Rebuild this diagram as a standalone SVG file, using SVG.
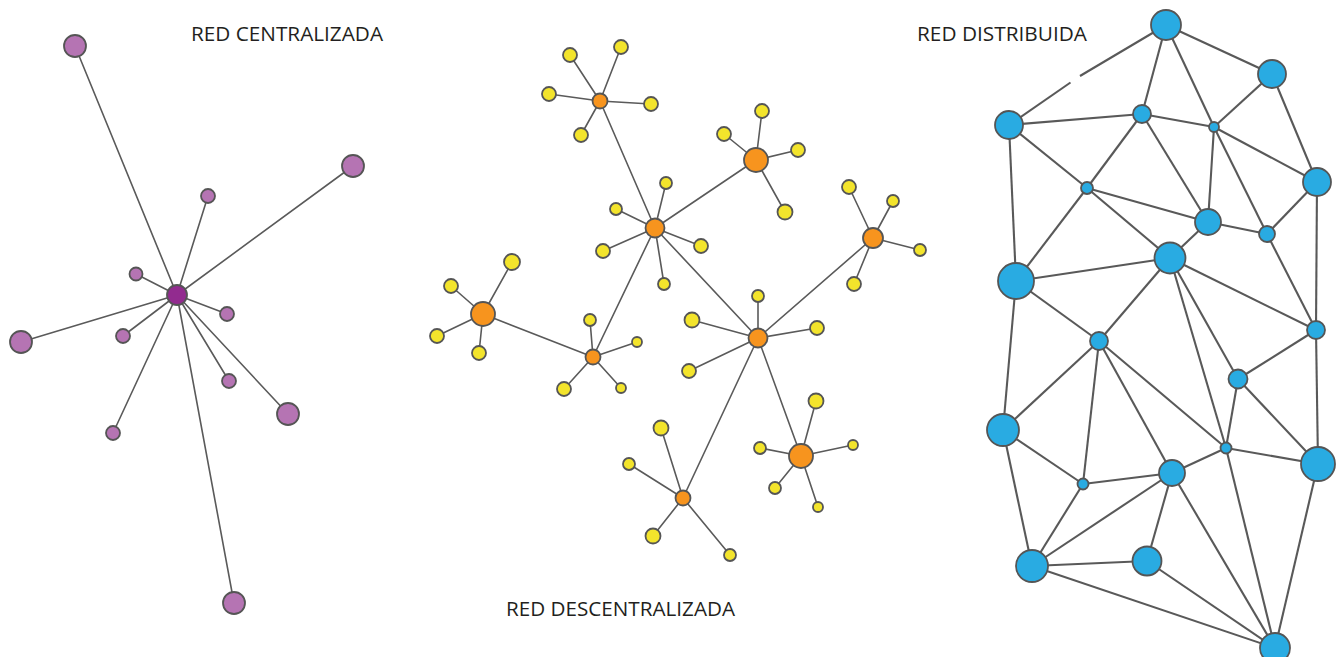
<svg xmlns="http://www.w3.org/2000/svg" width="1336" height="657" viewBox="0 0 1336 657">
  <style>
    .bg { fill: #ffffff; }
    .title { font-family: "Open Sans", "Liberation Sans", sans-serif; font-size: 19.5px; fill: #231f20; }
    .edge { stroke: #5a5a5a; stroke-width: 1.6; fill: none; stroke-linecap: round; }
    .edge-b { stroke: #595959; stroke-width: 2.1; fill: none; }
    .node { stroke: #555555; stroke-width: 1.8; }
    .hub-c { fill: #922b8f; }
    .leaf-c { fill: #b574b3; }
    .hub-d { fill: #f7941e; }
    .leaf-d { fill: #f3e42c; }
    .net-b { fill: #29abe2; }
  </style>
  <rect class="bg" x="0" y="0" width="1336" height="657"/>

  <!-- titles -->
  <text class="title" x="191" y="41" textLength="192" lengthAdjust="spacingAndGlyphs">RED CENTRALIZADA</text>
  <text class="title" x="506" y="616" textLength="229" lengthAdjust="spacingAndGlyphs">RED DESCENTRALIZADA</text>
  <text class="title" x="917" y="41" textLength="170" lengthAdjust="spacingAndGlyphs">RED DISTRIBUIDA</text>

  <!-- connectors -->
  <g id="connectors">
    <!-- star network -->
    <g id="edges-centralized" class="edge">
      <line x1="177" y1="295" x2="75" y2="46"/>
      <line x1="177" y1="295" x2="353" y2="166"/>
      <line x1="177" y1="295" x2="208" y2="196"/>
      <line x1="177" y1="295" x2="136" y2="274"/>
      <line x1="177" y1="295" x2="227" y2="314"/>
      <line x1="177" y1="295" x2="21" y2="342"/>
      <line x1="177" y1="295" x2="123" y2="336"/>
      <line x1="177" y1="295" x2="229" y2="381"/>
      <line x1="177" y1="295" x2="288" y2="414"/>
      <line x1="177" y1="295" x2="113" y2="433"/>
      <line x1="177" y1="295" x2="234" y2="603"/>
    </g>

    <!-- hub-and-spoke network -->
    <g id="edges-decentralized" class="edge">
      <!-- hub to hub -->
      <line x1="600" y1="101" x2="655" y2="228"/>
      <line x1="655" y1="228" x2="756" y2="160"/>
      <line x1="655" y1="228" x2="758" y2="338"/>
      <line x1="655" y1="228" x2="593" y2="357"/>
      <line x1="483" y1="314" x2="593" y2="357"/>
      <line x1="758" y1="338" x2="873" y2="238"/>
      <line x1="758" y1="338" x2="683" y2="498"/>
      <line x1="758" y1="338" x2="801" y2="456"/>
      <!-- hub A -->
      <line x1="600" y1="101" x2="570" y2="55"/>
      <line x1="600" y1="101" x2="621" y2="47"/>
      <line x1="600" y1="101" x2="549" y2="94"/>
      <line x1="600" y1="101" x2="651" y2="104"/>
      <line x1="600" y1="101" x2="581" y2="135"/>
      <!-- hub B -->
      <line x1="655" y1="228" x2="666" y2="183"/>
      <line x1="655" y1="228" x2="616" y2="209"/>
      <line x1="655" y1="228" x2="603" y2="251"/>
      <line x1="655" y1="228" x2="664" y2="284"/>
      <line x1="655" y1="228" x2="701" y2="246"/>
      <!-- hub C -->
      <line x1="483" y1="314" x2="512" y2="262"/>
      <line x1="483" y1="314" x2="451" y2="286"/>
      <line x1="483" y1="314" x2="437" y2="336"/>
      <line x1="483" y1="314" x2="479" y2="353"/>
      <!-- hub D -->
      <line x1="593" y1="357" x2="590" y2="320"/>
      <line x1="593" y1="357" x2="637" y2="342"/>
      <line x1="593" y1="357" x2="564" y2="389"/>
      <line x1="593" y1="357" x2="621" y2="388"/>
      <!-- hub E -->
      <line x1="758" y1="338" x2="758" y2="296"/>
      <line x1="758" y1="338" x2="692" y2="320"/>
      <line x1="758" y1="338" x2="817" y2="328"/>
      <line x1="758" y1="338" x2="689" y2="371"/>
      <!-- hub F -->
      <line x1="873" y1="238" x2="849" y2="187"/>
      <line x1="873" y1="238" x2="893" y2="201"/>
      <line x1="873" y1="238" x2="920" y2="250"/>
      <line x1="873" y1="238" x2="854" y2="284"/>
      <!-- hub G -->
      <line x1="683" y1="498" x2="661" y2="428"/>
      <line x1="683" y1="498" x2="629" y2="464"/>
      <line x1="683" y1="498" x2="653" y2="536"/>
      <line x1="683" y1="498" x2="730" y2="555"/>
      <!-- hub H -->
      <line x1="801" y1="456" x2="816" y2="401"/>
      <line x1="801" y1="456" x2="760" y2="448"/>
      <line x1="801" y1="456" x2="853" y2="445"/>
      <line x1="801" y1="456" x2="775" y2="488"/>
      <line x1="801" y1="456" x2="818" y2="507"/>
      <!-- hub I -->
      <line x1="756" y1="160" x2="762" y2="111"/>
      <line x1="756" y1="160" x2="724" y2="134"/>
      <line x1="756" y1="160" x2="798" y2="150"/>
      <line x1="756" y1="160" x2="785" y2="212"/>
    </g>

    <!-- mesh network -->
    <g id="edges-distributed" class="edge-b">
      <line x1="1009" y1="125" x2="1070.5" y2="82.5"/>
      <line x1="1080" y1="76" x2="1166" y2="25"/>
      <line x1="1166" y1="25" x2="1272" y2="74"/>
      <line x1="1166" y1="25" x2="1142" y2="114"/>
      <line x1="1166" y1="25" x2="1214" y2="127"/>
      <line x1="1272" y1="74" x2="1214" y2="127"/>
      <line x1="1272" y1="74" x2="1317" y2="182"/>
      <line x1="1009" y1="125" x2="1142" y2="114"/>
      <line x1="1009" y1="125" x2="1087" y2="188"/>
      <line x1="1009" y1="125" x2="1016" y2="281"/>
      <line x1="1142" y1="114" x2="1214" y2="127"/>
      <line x1="1142" y1="114" x2="1087" y2="188"/>
      <line x1="1142" y1="114" x2="1208" y2="222"/>
      <line x1="1214" y1="127" x2="1208" y2="222"/>
      <line x1="1214" y1="127" x2="1267" y2="234"/>
      <line x1="1214" y1="127" x2="1317" y2="182"/>
      <line x1="1317" y1="182" x2="1267" y2="234"/>
      <line x1="1317" y1="182" x2="1316" y2="330"/>
      <line x1="1087" y1="188" x2="1208" y2="222"/>
      <line x1="1087" y1="188" x2="1170" y2="258"/>
      <line x1="1087" y1="188" x2="1016" y2="281"/>
      <line x1="1208" y1="222" x2="1267" y2="234"/>
      <line x1="1208" y1="222" x2="1170" y2="258"/>
      <line x1="1267" y1="234" x2="1316" y2="330"/>
      <line x1="1170" y1="258" x2="1016" y2="281"/>
      <line x1="1170" y1="258" x2="1099" y2="341"/>
      <line x1="1170" y1="258" x2="1316" y2="330"/>
      <line x1="1170" y1="258" x2="1226" y2="448"/>
      <line x1="1170" y1="258" x2="1238" y2="379"/>
      <line x1="1016" y1="281" x2="1099" y2="341"/>
      <line x1="1016" y1="281" x2="1003" y2="430"/>
      <line x1="1316" y1="330" x2="1238" y2="379"/>
      <line x1="1316" y1="330" x2="1318" y2="464"/>
      <line x1="1099" y1="341" x2="1003" y2="430"/>
      <line x1="1099" y1="341" x2="1083" y2="484"/>
      <line x1="1099" y1="341" x2="1172" y2="473"/>
      <line x1="1099" y1="341" x2="1226" y2="448"/>
      <line x1="1238" y1="379" x2="1226" y2="448"/>
      <line x1="1238" y1="379" x2="1318" y2="464"/>
      <line x1="1003" y1="430" x2="1083" y2="484"/>
      <line x1="1003" y1="430" x2="1032" y2="566"/>
      <line x1="1226" y1="448" x2="1318" y2="464"/>
      <line x1="1226" y1="448" x2="1172" y2="473"/>
      <line x1="1226" y1="448" x2="1275" y2="648"/>
      <line x1="1318" y1="464" x2="1275" y2="648"/>
      <line x1="1083" y1="484" x2="1172" y2="473"/>
      <line x1="1083" y1="484" x2="1032" y2="566"/>
      <line x1="1172" y1="473" x2="1032" y2="566"/>
      <line x1="1172" y1="473" x2="1147" y2="561"/>
      <line x1="1172" y1="473" x2="1275" y2="648"/>
      <line x1="1032" y1="566" x2="1147" y2="561"/>
      <line x1="1032" y1="566" x2="1275" y2="648"/>
      <line x1="1147" y1="561" x2="1275" y2="648"/>
    </g>
  </g>

  <!-- centralized nodes -->
  <g id="centralized">
    <g id="c-hub"><circle class="node hub-c" cx="177" cy="295" r="10"/></g>
    <g id="c1"><circle class="node leaf-c" cx="75" cy="46" r="11"/></g>
    <g id="c2"><circle class="node leaf-c" cx="353" cy="166" r="11"/></g>
    <g id="c3"><circle class="node leaf-c" cx="208" cy="196" r="7"/></g>
    <g id="c4"><circle class="node leaf-c" cx="136" cy="274" r="6.5"/></g>
    <g id="c5"><circle class="node leaf-c" cx="227" cy="314" r="7"/></g>
    <g id="c6"><circle class="node leaf-c" cx="21" cy="342" r="11"/></g>
    <g id="c7"><circle class="node leaf-c" cx="123" cy="336" r="7"/></g>
    <g id="c8"><circle class="node leaf-c" cx="229" cy="381" r="7"/></g>
    <g id="c9"><circle class="node leaf-c" cx="288" cy="414" r="11"/></g>
    <g id="c10"><circle class="node leaf-c" cx="113" cy="433" r="7"/></g>
    <g id="c11"><circle class="node leaf-c" cx="234" cy="603" r="11"/></g>
  </g>

  <!-- decentralized nodes -->
  <g id="decentralized">
    <g id="d-leaves">
      <g id="dA1"><circle class="node leaf-d" cx="570" cy="55" r="7"/></g>
      <g id="dA2"><circle class="node leaf-d" cx="621" cy="47" r="7"/></g>
      <g id="dA3"><circle class="node leaf-d" cx="549" cy="94" r="7"/></g>
      <g id="dA4"><circle class="node leaf-d" cx="651" cy="104" r="7"/></g>
      <g id="dA5"><circle class="node leaf-d" cx="581" cy="135" r="7"/></g>
      <g id="dB1"><circle class="node leaf-d" cx="666" cy="183" r="6"/></g>
      <g id="dB2"><circle class="node leaf-d" cx="616" cy="209" r="6"/></g>
      <g id="dB3"><circle class="node leaf-d" cx="603" cy="251" r="7"/></g>
      <g id="dB4"><circle class="node leaf-d" cx="664" cy="284" r="6"/></g>
      <g id="dB5"><circle class="node leaf-d" cx="701" cy="246" r="7"/></g>
      <g id="dC1"><circle class="node leaf-d" cx="512" cy="262" r="8"/></g>
      <g id="dC2"><circle class="node leaf-d" cx="451" cy="286" r="7"/></g>
      <g id="dC3"><circle class="node leaf-d" cx="437" cy="336" r="7"/></g>
      <g id="dC4"><circle class="node leaf-d" cx="479" cy="353" r="7"/></g>
      <g id="dD1"><circle class="node leaf-d" cx="590" cy="320" r="6"/></g>
      <g id="dD2"><circle class="node leaf-d" cx="637" cy="342" r="5"/></g>
      <g id="dD3"><circle class="node leaf-d" cx="564" cy="389" r="7"/></g>
      <g id="dD4"><circle class="node leaf-d" cx="621" cy="388" r="5"/></g>
      <g id="dE1"><circle class="node leaf-d" cx="758" cy="296" r="6"/></g>
      <g id="dE2"><circle class="node leaf-d" cx="692" cy="320" r="7.5"/></g>
      <g id="dE3"><circle class="node leaf-d" cx="817" cy="328" r="7"/></g>
      <g id="dE4"><circle class="node leaf-d" cx="689" cy="371" r="7"/></g>
      <g id="dF1"><circle class="node leaf-d" cx="849" cy="187" r="7"/></g>
      <g id="dF2"><circle class="node leaf-d" cx="893" cy="201" r="6"/></g>
      <g id="dF3"><circle class="node leaf-d" cx="920" cy="250" r="6"/></g>
      <g id="dF4"><circle class="node leaf-d" cx="854" cy="284" r="7"/></g>
      <g id="dG1"><circle class="node leaf-d" cx="661" cy="428" r="7.5"/></g>
      <g id="dG2"><circle class="node leaf-d" cx="629" cy="464" r="6"/></g>
      <g id="dG3"><circle class="node leaf-d" cx="653" cy="536" r="7.5"/></g>
      <g id="dG4"><circle class="node leaf-d" cx="730" cy="555" r="6"/></g>
      <g id="dH1"><circle class="node leaf-d" cx="816" cy="401" r="7.5"/></g>
      <g id="dH2"><circle class="node leaf-d" cx="760" cy="448" r="6"/></g>
      <g id="dH3"><circle class="node leaf-d" cx="853" cy="445" r="5"/></g>
      <g id="dH4"><circle class="node leaf-d" cx="775" cy="488" r="6"/></g>
      <g id="dH5"><circle class="node leaf-d" cx="818" cy="507" r="5"/></g>
      <g id="dI1"><circle class="node leaf-d" cx="762" cy="111" r="7"/></g>
      <g id="dI2"><circle class="node leaf-d" cx="724" cy="134" r="7"/></g>
      <g id="dI3"><circle class="node leaf-d" cx="798" cy="150" r="7"/></g>
      <g id="dI4"><circle class="node leaf-d" cx="785" cy="212" r="7.5"/></g>
    </g>
    <g id="d-hubs">
      <g id="dA"><circle class="node hub-d" cx="600" cy="101" r="7.5"/></g>
      <g id="dB"><circle class="node hub-d" cx="655" cy="228" r="9.5"/></g>
      <g id="dC"><circle class="node hub-d" cx="483" cy="314" r="12"/></g>
      <g id="dD"><circle class="node hub-d" cx="593" cy="357" r="7.5"/></g>
      <g id="dE"><circle class="node hub-d" cx="758" cy="338" r="9.5"/></g>
      <g id="dF"><circle class="node hub-d" cx="873" cy="238" r="10"/></g>
      <g id="dG"><circle class="node hub-d" cx="683" cy="498" r="7.5"/></g>
      <g id="dH"><circle class="node hub-d" cx="801" cy="456" r="12"/></g>
      <g id="dI"><circle class="node hub-d" cx="756" cy="160" r="12"/></g>
    </g>
  </g>

  <!-- distributed nodes -->
  <g id="distributed">
    <g id="n1"><circle class="node net-b" cx="1166" cy="25" r="15"/></g>
    <g id="n2"><circle class="node net-b" cx="1272" cy="74" r="14"/></g>
    <g id="n3"><circle class="node net-b" cx="1009" cy="125" r="14"/></g>
    <g id="n4"><circle class="node net-b" cx="1142" cy="114" r="9"/></g>
    <g id="n5"><circle class="node net-b" cx="1214" cy="127" r="5"/></g>
    <g id="n6"><circle class="node net-b" cx="1317" cy="182" r="14"/></g>
    <g id="n7"><circle class="node net-b" cx="1087" cy="188" r="6"/></g>
    <g id="n8"><circle class="node net-b" cx="1208" cy="222" r="13"/></g>
    <g id="n9"><circle class="node net-b" cx="1267" cy="234" r="8"/></g>
    <g id="n10"><circle class="node net-b" cx="1170" cy="258" r="15.5"/></g>
    <g id="n11"><circle class="node net-b" cx="1016" cy="281" r="18"/></g>
    <g id="n12"><circle class="node net-b" cx="1316" cy="330" r="9"/></g>
    <g id="n13"><circle class="node net-b" cx="1099" cy="341" r="9"/></g>
    <g id="n14"><circle class="node net-b" cx="1238" cy="379" r="9.5"/></g>
    <g id="n15"><circle class="node net-b" cx="1003" cy="430" r="16"/></g>
    <g id="n16"><circle class="node net-b" cx="1226" cy="448" r="5.5"/></g>
    <g id="n17"><circle class="node net-b" cx="1318" cy="464" r="17"/></g>
    <g id="n18"><circle class="node net-b" cx="1083" cy="484" r="5.5"/></g>
    <g id="n19"><circle class="node net-b" cx="1172" cy="473" r="13"/></g>
    <g id="n20"><circle class="node net-b" cx="1032" cy="566" r="16"/></g>
    <g id="n21"><circle class="node net-b" cx="1147" cy="561" r="14.5"/></g>
    <g id="n22"><circle class="node net-b" cx="1275" cy="648" r="15"/></g>
  </g>
</svg>
